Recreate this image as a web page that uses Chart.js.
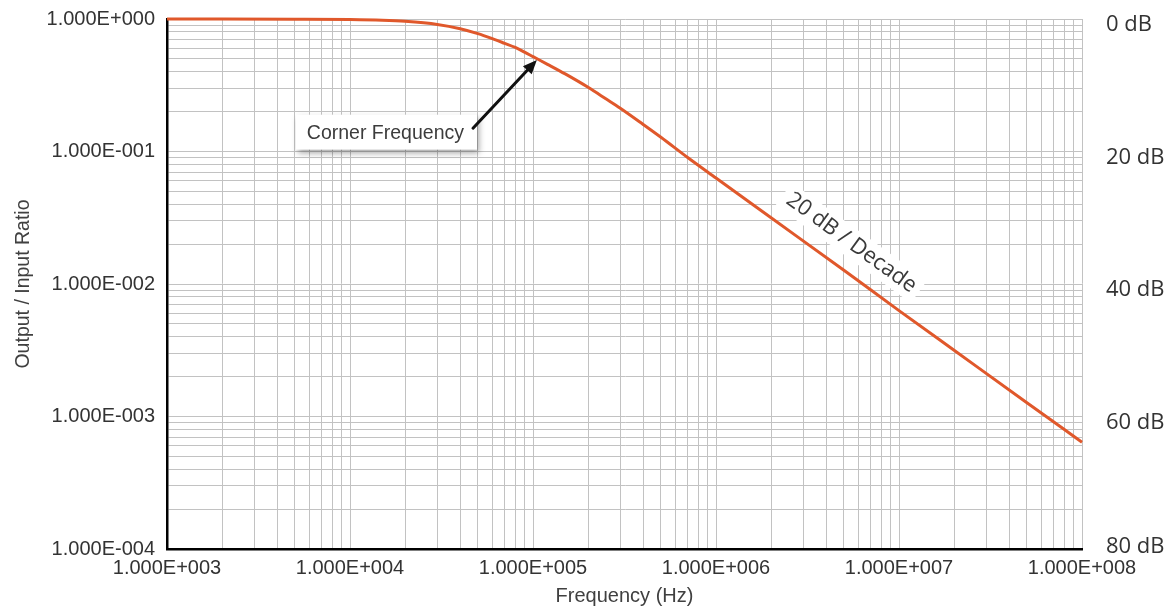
<!DOCTYPE html>
<html>
<head>
<meta charset="utf-8">
<script src="https://cdn.jsdelivr.net/npm/chart.js@4.4.0/dist/chart.umd.min.js"></script>
<style>
  html, body { margin: 0; padding: 0; background: #fff; }
  #chart { display: block; }
</style>
</head>
<body>
<canvas id="chart" width="1172" height="610"></canvas>
<script>
// frequency (Hz) and output/input ratio
var freqHz = [1e3, 2e3, 5e3, 1e4, 1.5e4, 2e4, 3e4, 4e4, 5e4, 6e4, 7e4, 8e4, 9e4, 1e5, 1.2e5, 1.5e5, 2e5, 2.5e5, 3e5,
              4e5, 5e5, 7e5, 1e6, 2e6, 5e6, 1e7, 2e7, 5e7, 1e8];
var ratio = [1.0, 1.0, 0.997, 0.99, 0.978, 0.96, 0.91, 0.845, 0.775, 0.71, 0.655, 0.61, 0.562, 0.52, 0.455, 0.385, 0.305, 0.25, 0.212,
             0.16, 0.128, 0.09, 0.063, 0.0316, 0.0127, 0.0063, 0.00316, 0.00127, 0.00064];

var xTickLabels = ['1.000E+003', '1.000E+004', '1.000E+005', '1.000E+006', '1.000E+007', '1.000E+008'];
var yTickLabels = ['1.000E-004', '1.000E-003', '1.000E-002', '1.000E-001', '1.000E+000'];
var dbTickLabels = ['0 dB', '20 dB', '40 dB', '60 dB', '80 dB'];

var cornerLabel = 'Corner Frequency';
var slopeLabel = '20 dB / Decade';
// arrow tip / tail in data units
var cornerTip = [1.05e5, 0.49];
var cornerTail = [4.7e4, 0.15];
var slopeAnchor = [4.5e6, 0.014];

var lineColor = '#e0582b';
var gridColor = '#c2c2c2';
var textColor = '#333333';

// 1..9 x 10^n gridlines between two decades
function logGrid(minExp, maxExp) {
    var ticks = [];
    for (var e = minExp; e < maxExp; e++) {
        for (var s = 1; s <= 9; s++) {
            ticks.push({ value: s * Math.pow(10, e) });
        }
    }
    ticks.push({ value: Math.pow(10, maxExp) });
    return ticks;
}

function decadeLabel(labels, minExp) {
    return function(value) {
        var e = Math.log10(value);
        if (Math.abs(e - Math.round(e)) > 1e-6) return '';
        return labels[Math.round(e) - minExp] || '';
    };
}

var notesPlugin = {
    id: 'notes',
    beforeDraw: function(chart) {
        // keep the bottom dB label clear of the x tick labels
        var items = chart.scales.db.getLabelItems(chart.chartArea);
        var last = items[items.length - 1];
        if (last && !last._lifted) {
            last.options.translation[1] -= 8;
            last._lifted = true;
        }
    },
    afterDatasetsDraw: function(chart) {
        var ctx = chart.ctx;
        var xs = chart.scales.x, ys = chart.scales.y;

        // corner frequency callout
        var tx = xs.getPixelForValue(cornerTip[0]), ty = ys.getPixelForValue(cornerTip[1]);
        var sx = xs.getPixelForValue(cornerTail[0]), sy = ys.getPixelForValue(cornerTail[1]);

        ctx.save();
        ctx.font = '19.5px "Liberation Sans", Arial, sans-serif';
        var tw = ctx.measureText(cornerLabel).width;
        var bw = tw + 24, bh = 35;
        var bx = sx + 4 - bw, by = sy + 4 - bh / 2;
        ctx.shadowColor = 'rgba(0,0,0,0.35)';
        ctx.shadowBlur = 6;
        ctx.shadowOffsetX = 2;
        ctx.shadowOffsetY = 3;
        ctx.fillStyle = '#ffffff';
        ctx.fillRect(bx, by, bw, bh);
        ctx.shadowColor = 'transparent';
        ctx.fillStyle = '#3c3c3c';
        ctx.textBaseline = 'middle';
        ctx.textAlign = 'left';
        ctx.fillText(cornerLabel, bx + 11, by + bh / 2 + 1);

        // arrow
        var ang = Math.atan2(ty - sy, tx - sx);
        var headLen = 14, headW = 6;
        var hx = tx - headLen * Math.cos(ang), hy = ty - headLen * Math.sin(ang);
        ctx.strokeStyle = '#111';
        ctx.lineWidth = 3;
        ctx.lineCap = 'round';
        ctx.beginPath();
        ctx.moveTo(sx, sy);
        ctx.lineTo(hx, hy);
        ctx.stroke();
        ctx.fillStyle = '#111';
        ctx.beginPath();
        ctx.moveTo(tx, ty);
        ctx.lineTo(hx + headW * Math.sin(ang), hy - headW * Math.cos(ang));
        ctx.lineTo(hx - headW * Math.sin(ang), hy + headW * Math.cos(ang));
        ctx.closePath();
        ctx.fill();
        ctx.restore();

        // slope label, parallel to a 20 dB/decade line
        var px = xs.getPixelForValue(slopeAnchor[0]), py = ys.getPixelForValue(slopeAnchor[1]);
        var rot = Math.atan2(ys.getPixelForValue(1e-3) - ys.getPixelForValue(1e-2),
                             xs.getPixelForValue(1e7) - xs.getPixelForValue(1e6));
        ctx.save();
        ctx.translate(px, py);
        ctx.rotate(rot);
        ctx.font = '22px "Open Sans", sans-serif';
        var lw = ctx.measureText(slopeLabel).width;
        ctx.fillStyle = '#ffffff';
        ctx.fillRect(-lw / 2 - 6, -27 - 14, lw + 12, 28);
        ctx.fillStyle = '#3a3a3a';
        ctx.textAlign = 'center';
        ctx.textBaseline = 'middle';
        ctx.fillText(slopeLabel, 0, -27);
        ctx.restore();
    }
};

function noEdgePadding(scale) {
    scale.paddingTop = 0;
    scale.paddingBottom = 0;
}

var ctx = document.getElementById('chart').getContext('2d');
new Chart(ctx, {
    type: 'line',
    data: {
        datasets: [{
            data: freqHz.map(function(f, i) { return { x: f, y: ratio[i] }; }),
            borderColor: lineColor,
            borderWidth: 3,
            pointRadius: 0,
            cubicInterpolationMode: 'monotone',
            fill: false,
            clip: 4
        }]
    },
    options: {
        responsive: false,
        animation: false,
        layout: { padding: { top: 19, left: 0, right: 0, bottom: 0 } },
        plugins: {
            legend: { display: false },
            tooltip: { enabled: false }
        },
        scales: {
            x: {
                type: 'logarithmic',
                min: 1e3,
                max: 1e8,
                afterBuildTicks: function(scale) { scale.ticks = logGrid(3, 8); },
                afterFit: function(scale) { scale.height = 61; },
                grid: { color: gridColor, lineWidth: 1, drawTicks: false },
                border: { color: '#000', width: 2.5 },
                ticks: {
                    autoSkip: false,
                    maxRotation: 0,
                    padding: 7,
                    color: textColor,
                    font: { family: '"Liberation Sans", Arial, sans-serif', size: 20 },
                    callback: decadeLabel(xTickLabels, 3)
                },
                title: {
                    display: true,
                    text: 'Frequency (Hz)',
                    color: '#404040',
                    padding: { top: 0, bottom: 2 },
                    font: { family: '"Liberation Sans", Arial, sans-serif', size: 20 }
                }
            },
            y: {
                type: 'logarithmic',
                position: 'left',
                min: 1e-4,
                max: 1,
                afterBuildTicks: function(scale) { scale.ticks = logGrid(-4, 0); },
                afterFit: function(scale) { scale.width = 167; noEdgePadding(scale); },
                grid: { color: gridColor, lineWidth: 1, drawTicks: false },
                border: { color: '#000', width: 2.5 },
                ticks: {
                    autoSkip: false,
                    padding: 12,
                    color: textColor,
                    font: { family: '"Liberation Sans", Arial, sans-serif', size: 20 },
                    callback: decadeLabel(yTickLabels, -4)
                },
                title: {
                    display: true,
                    text: 'Output / Input Ratio',
                    color: '#404040',
                    padding: { top: 12, bottom: 0 },
                    font: { family: '"Liberation Sans", Arial, sans-serif', size: 19.5 }
                }
            },
            db: {
                type: 'linear',
                position: 'right',
                min: 0,
                max: 80,
                reverse: true,
                afterBuildTicks: function(scale) {
                    scale.ticks = dbTickLabels.map(function(_, i) { return { value: i * 20 }; });
                },
                afterFit: function(scale) { scale.width = 90; noEdgePadding(scale); },
                grid: { display: false, drawTicks: false },
                border: { display: false },
                ticks: {
                    autoSkip: false,
                    padding: 24,
                    labelOffset: 6,
                    color: textColor,
                    font: { family: '"Open Sans", sans-serif', size: 22 },
                    callback: function(value) { return dbTickLabels[Math.round(value / 20)]; }
                }
            }
        }
    },
    plugins: [notesPlugin]
});
</script>
</body>
</html>
